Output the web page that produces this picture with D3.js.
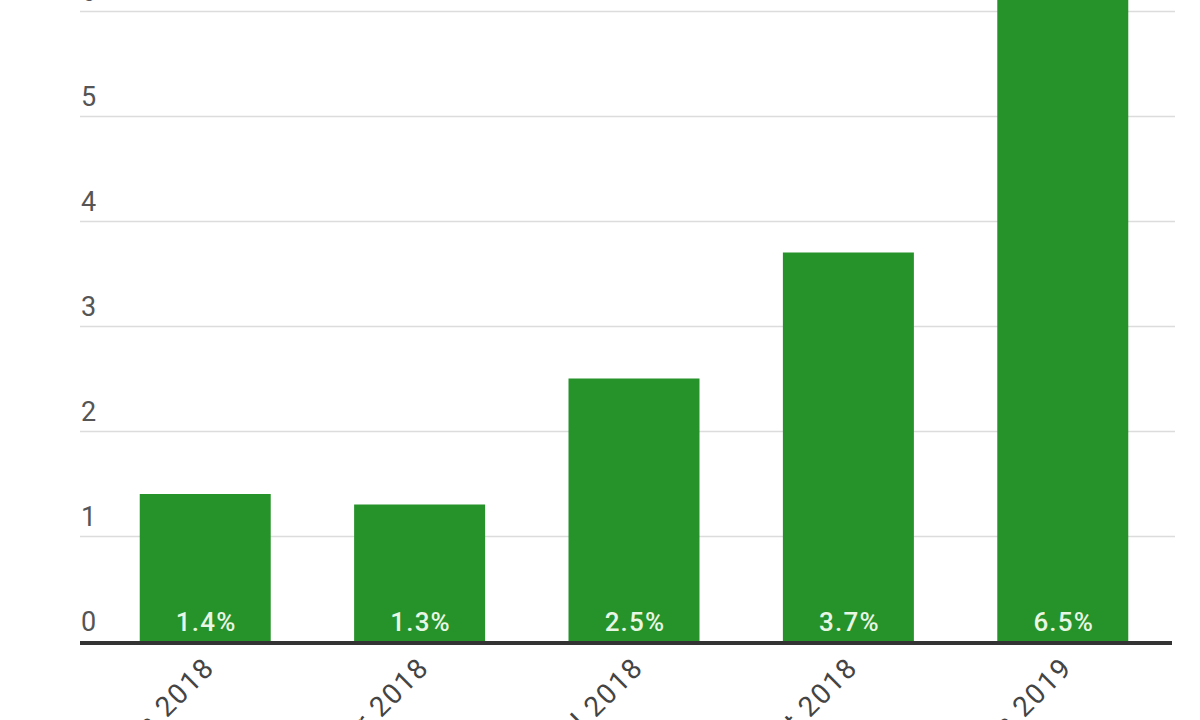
<!DOCTYPE html>
<html>
<head>
<meta charset="utf-8">
<script src="https://cdn.jsdelivr.net/npm/d3@7"></script>
<style>
  html, body { margin: 0; padding: 0; background: #fff; }
  svg { display: block; font-family: Roboto, "Noto Sans", sans-serif; }
</style>
</head>
<body>
<svg id="chart" width="1200" height="720"></svg>
<script>
const categories = ["Jan 2018", "Apr 2018", "Jul 2018", "Oct 2018", "Jan 2019"];
const values = [1.4, 1.3, 2.5, 3.7, 6.5];
const valueLabels = ["1.4%", "1.3%", "2.5%", "3.7%", "6.5%"];
const yTicks = [0, 1, 2, 3, 4, 5, 6];

const svg = d3.select("#chart");
const plotLeft = 80, plotRight = 1175;

const x = d3.scaleBand()
  .domain(categories)
  .range([96, 1172])
  .paddingInner(0.389)
  .paddingOuter(0.204);

const y = d3.scaleLinear().domain([0, 6]).range([641, 11]);

// gridlines
svg.append("g").selectAll("line").data(yTicks.filter(d => d > 0)).enter().append("line")
  .attr("x1", plotLeft).attr("x2", plotRight)
  .attr("y1", d => y(d) + 0.5).attr("y2", d => y(d) + 0.5)
  .attr("stroke", "#dcdcdc").attr("stroke-width", 1.5);

// y labels (above gridlines)
svg.append("g").selectAll("text").data(yTicks).enter().append("text")
  .attr("x", 81).attr("y", d => y(d) - 10)
  .attr("fill", "#555").attr("font-size", 27)
  .text(d => d);

// bars
svg.append("g").selectAll("rect").data(values).enter().append("rect")
  .attr("x", (d, i) => x(categories[i]))
  .attr("width", x.bandwidth())
  .attr("y", d => y(d))
  .attr("height", d => y(0) - y(d))
  .attr("fill", "#26922a");

// value labels inside bars
svg.append("g").selectAll("text").data(values).enter().append("text")
  .attr("x", (d, i) => x(categories[i]) + x.bandwidth() / 2 + 1)
  .attr("y", y(0) - 10)
  .attr("text-anchor", "middle")
  .attr("fill", "#e8f6e4").attr("font-size", 26).attr("font-weight", 500)
  .attr("letter-spacing", 1.2)
  .text((d, i) => valueLabels[i]);

// x axis baseline
svg.append("line")
  .attr("x1", plotLeft).attr("x2", 1172)
  .attr("y1", y(0) + 2).attr("y2", y(0) + 2)
  .attr("stroke", "#333").attr("stroke-width", 4);

// x labels rotated
svg.append("g").selectAll("text").data(categories).enter().append("text")
  .attr("transform", d => `translate(${x(d) + x.bandwidth() / 2 + 11},${y(0) + 28}) rotate(-45)`)
  .attr("text-anchor", "end")
  .attr("fill", "#444").attr("font-size", 28)
  .attr("letter-spacing", 1.8)
  .text(d => d);
</script>
</body>
</html>
